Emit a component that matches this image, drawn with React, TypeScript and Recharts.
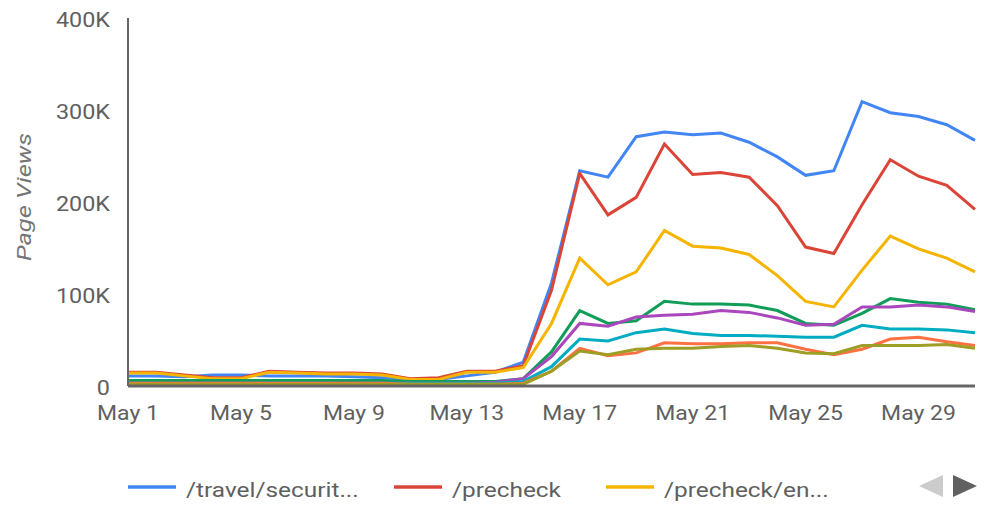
import { LineChart, Line, XAxis, YAxis } from 'recharts'

const days = [
  'May 1', 'May 2', 'May 3', 'May 4', 'May 5', 'May 6', 'May 7', 'May 8', 'May 9', 'May 10',
  'May 11', 'May 12', 'May 13', 'May 14', 'May 15', 'May 16', 'May 17', 'May 18', 'May 19', 'May 20',
  'May 21', 'May 22', 'May 23', 'May 24', 'May 25', 'May 26', 'May 27', 'May 28', 'May 29', 'May 30', 'May 31',
]

// page views, thousands
const travelSecurity = [11, 11, 10, 12, 12, 11, 11, 11, 10, 9, 7, 7, 11, 15, 26, 112, 234, 227, 271, 276, 273, 275, 265, 249, 229, 234, 309, 297, 293, 284, 267]
const precheck = [15, 15, 12, 9, 9, 16, 15, 14, 14, 13, 8, 9, 16, 16, 22, 104, 231, 186, 205, 263, 230, 232, 227, 196, 151, 144, 197, 246, 228, 218, 192]
const precheckEn = [14, 14, 11, 8, 8, 15, 14, 13, 13, 12, 7, 7, 15, 15, 20, 68, 139, 110, 124, 169, 152, 150, 143, 120, 92, 86, 126, 163, 149, 139, 124]
const page4 = [6, 6, 6, 6, 6, 6, 6, 6, 6, 6, 5, 5, 5, 5, 8, 37, 82, 68, 71, 92, 89, 89, 88, 82, 68, 66, 79, 95, 91, 89, 83]
const page5 = [3, 3, 3, 3, 3, 3, 3, 3, 3, 3, 3, 3, 3, 4, 8, 32, 68, 65, 75, 77, 78, 82, 80, 74, 66, 67, 86, 86, 88, 86, 81]
const page6 = [3, 3, 3, 3, 3, 3, 3, 3, 3, 3, 3, 3, 3, 3, 5, 21, 51, 49, 58, 62, 57, 55, 55, 54, 53, 53, 66, 62, 62, 61, 58]
const page7 = [3, 3, 3, 3, 3, 3, 3, 3, 3, 3, 2, 2, 2, 2, 3, 16, 41, 33, 36, 47, 46, 46, 47, 47, 40, 34, 40, 51, 53, 48, 44]
const page8 = [2, 2, 2, 2, 2, 2, 2, 2, 2, 2, 2, 2, 2, 2, 2, 16, 38, 34, 40, 41, 41, 43, 44, 41, 36, 35, 44, 44, 44, 45, 41]

const seriesNames = ['/travel/securit...', '/precheck', '/precheck/en...', 'page 4', 'page 5', 'page 6', 'page 7', 'page 8']
const seriesValues = [travelSecurity, precheck, precheckEn, page4, page5, page6, page7, page8]
const colors = ['#4285F4', '#DB4437', '#F4B400', '#0F9D58', '#AB47BC', '#00ACC1', '#FF7043', '#9E9D24']
const yTicks = [0, 100000, 200000, 300000, 400000]
const legendCount = 3

const data = days.map((day, i) => {
  const row: Record<string, string | number> = { day }
  seriesValues.forEach((vals, s) => {
    row[`s${s}`] = vals[i] * 1000
  })
  return row
})

const FONT = 'Roboto, sans-serif'
const TEXT = '#5f5f5f'

const fmtK = (v: number) => (v === 0 ? '0' : `${v / 1000}K`)

const YTick = ({ x, y, payload }: any) => (
  <text
    transform={`translate(${x - 10},${y + 9}) scale(1.17,1)`}
    textAnchor="end"
    fill={TEXT}
    fontSize={20}
    fontFamily={FONT}
  >
    {fmtK(payload.value)}
  </text>
)

const XTick = ({ x, y, payload }: any) => (
  <text
    transform={`translate(${x},${y + 26}) scale(1.15,1)`}
    textAnchor="middle"
    fill={TEXT}
    fontSize={20}
    fontFamily={FONT}
  >
    {payload.value}
  </text>
)

const legendX = [128, 394, 606]

export default function App() {
  return (
    <div style={{ position: 'relative', width: 1005, height: 507, background: '#fff' }}>
      <style>{'body{margin:0}'}</style>
      <LineChart width={1005} height={440} data={data} margin={{ top: 18, right: 30, bottom: 0, left: 0 }}>
        <XAxis
          dataKey="day"
          interval={3}
          height={54}
          tickLine={false}
          axisLine={{ stroke: '#666', strokeWidth: 3 }}
          tick={<XTick />}
        />
        <YAxis
          width={128}
          domain={[0, 400000]}
          ticks={yTicks}
          tickLine={false}
          axisLine={{ stroke: '#666', strokeWidth: 2 }}
          tick={<YTick />}
        />
        {seriesValues.map((_, s) => (
          <Line
            key={s}
            type="linear"
            dataKey={`s${s}`}
            name={seriesNames[s]}
            stroke={colors[s]}
            strokeWidth={3}
            dot={false}
            activeDot={false}
            isAnimationActive={false}
          />
        ))}
      </LineChart>
      <svg
        width={1005}
        height={507}
        style={{ position: 'absolute', left: 0, top: 0, pointerEvents: 'none' }}
      >
        <text
          transform="translate(31,197) rotate(-90) scale(1.27,1)"
          textAnchor="middle"
          fill="#757575"
          fontSize={20}
          fontStyle="italic"
          fontFamily={FONT}
        >
          Page Views
        </text>
        {seriesNames.slice(0, legendCount).map((name, i) => (
          <g key={name}>
            <line x1={legendX[i]} x2={legendX[i] + 48} y1={487} y2={487} stroke={colors[i]} strokeWidth={3.5} />
            <text
              transform={`translate(${legendX[i] + 58},497) scale(1.22,1)`}
              fill={TEXT}
              fontSize={20}
              fontFamily={FONT}
            >
              {name}
            </text>
          </g>
        ))}
        <polygon points="943,475 943,497 919,486" fill="#cccccc" />
        <polygon points="953,475 953,497 977,486" fill="#616161" />
      </svg>
    </div>
  )
}
